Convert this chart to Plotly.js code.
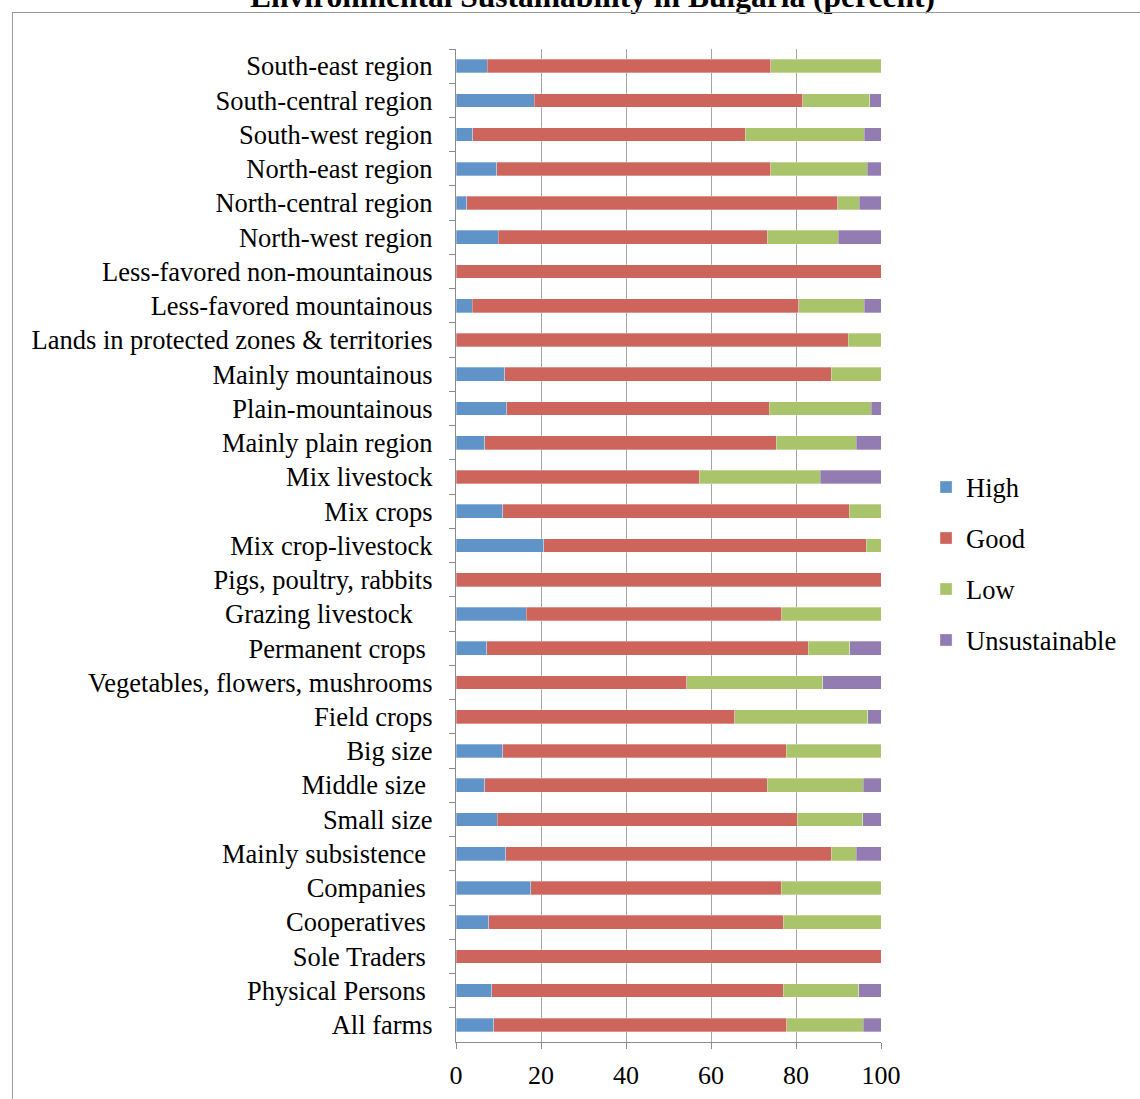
<!DOCTYPE html>
<html>
<head>
<meta charset="utf-8">
<script src="https://cdn.plot.ly/plotly-3.0.1.min.js"></script>
<style>
html,body{margin:0;padding:0;background:#fff;}
#wrap{position:relative;width:1140px;height:1099px;overflow:hidden;}
#frame{position:absolute;left:12px;top:12px;width:1140px;height:1100px;border:1.5px solid #9a9a9a;pointer-events:none;z-index:2;}
#chart{position:absolute;left:0;top:0;width:1140px;height:1099px;}
</style>
</head>
<body>
<div id="wrap"><div id="chart"></div><div id="frame"></div></div>
<script>
const NB = '\u00a0';
const categories = [
  "South-east region","South-central region","South-west region","North-east region",
  "North-central region","North-west region","Less-favored non-mountainous","Less-favored mountainous",
  "Lands in protected zones & territories","Mainly mountainous","Plain-mountainous","Mainly plain region",
  "Mix livestock","Mix crops","Mix crop-livestock","Pigs, poultry, rabbits",
  "Grazing livestock"+NB+NB+NB,"Permanent crops"+NB,"Vegetables, flowers, mushrooms","Field crops",
  "Big size","Middle size"+NB,"Small size","Mainly subsistence"+NB,
  "Companies"+NB,"Cooperatives"+NB,"Sole Traders"+NB,"Physical Persons"+NB,"All farms"
];
const high  = [7.3,18.4,3.9,9.6,2.5,9.9,0,3.8,0,11.5,11.9,6.8,0,11.0,20.7,0,16.5,7.2,0,0,11.0,6.8,9.7,11.7,17.6,7.7,0,8.4,8.9];
const good  = [66.7,63.2,64.1,64.5,87.3,63.3,100,76.9,92.3,76.8,61.8,68.5,57.2,81.5,75.8,100,60.1,75.7,54.3,65.6,66.7,66.4,70.6,76.6,58.9,69.3,100,68.6,68.9];
const low   = [26.0,15.8,28.0,22.7,5.1,16.7,0,15.4,7.7,11.7,24.0,18.9,28.5,7.5,3.5,0,23.4,9.8,32.0,31.3,22.3,22.6,15.4,5.9,23.5,23.0,0,17.8,18.0];
const unsus = [0,2.6,4.0,3.2,5.1,10.1,0,3.9,0,0,2.3,5.8,14.3,0,0,0,0,7.3,13.7,3.1,0,4.2,4.3,5.8,0,0,0,5.2,4.2];
const seriesNames = ["High","Good","Low","Unsustainable"];
const colors = ["#6094C9","#CD655D","#A9C46B","#927CB2"];
const xTicks = [0,20,40,60,80,100];
const titleText = "Environmental Sustainability in Bulgaria (percent)";

const vals = [high,good,low,unsus];
const traces = vals.map((v,i)=>({
  type:'bar', orientation:'h', name:seriesNames[i], x:v, y:categories,
  width:0.4, legendgroup:'g'+i,
  marker:{color:colors[i], line:{color:'rgba(255,255,255,0.5)', width:0.6}},
  hoverinfo:'x+y+name'
}));

const ff = '"Liberation Serif","Times New Roman",serif';
const layout = {
  width:1140, height:1099,
  margin:{l:456, r:259, t:49, b:57},
  paper_bgcolor:'rgba(0,0,0,0)', plot_bgcolor:'#fff',
  barmode:'stack', bargap:0.6,
  font:{family:ff, color:'#000', size:26.5},
  annotations:[{text:'<b>'+titleText+'</b>', xref:'paper', yref:'paper', x:0.322, xanchor:'center',
    y:1.053, yanchor:'middle', showarrow:false, font:{family:ff, size:31.5, color:'#000'}}],
  xaxis:{range:[0,100], tickvals:xTicks, ticktext:xTicks.map(String), showgrid:true, gridcolor:'#a6a6a6', gridwidth:1.3,
         showline:true, linecolor:'#8c8c8c', linewidth:1.3, ticks:'outside', ticklen:6, tickcolor:'#8c8c8c', tickwidth:1.3,
         ticklabelstandoff:4, zeroline:false, tickfont:{family:ff, size:26, color:'#000'}, fixedrange:true},
  yaxis:{type:'category', autorange:'reversed', showline:true, linecolor:'#8c8c8c', linewidth:1.3,
         ticks:'outside', ticklen:6, tickcolor:'#8c8c8c', tickwidth:1.3, tickson:'boundaries', showgrid:false,
         ticklabelstandoff:17, tickfont:{family:ff, size:26.5, color:'#000'}, fixedrange:true},
  legend:{x:1.106, xanchor:'left', y:0.4815, yanchor:'middle', traceorder:'grouped', tracegroupgap:13.5,
          font:{family:ff, size:26.5, color:'#000'}, bgcolor:'rgba(0,0,0,0)'},
  showlegend:true
};
Plotly.newPlot('chart', traces, layout, {displayModeBar:false});
</script>
</body>
</html>
